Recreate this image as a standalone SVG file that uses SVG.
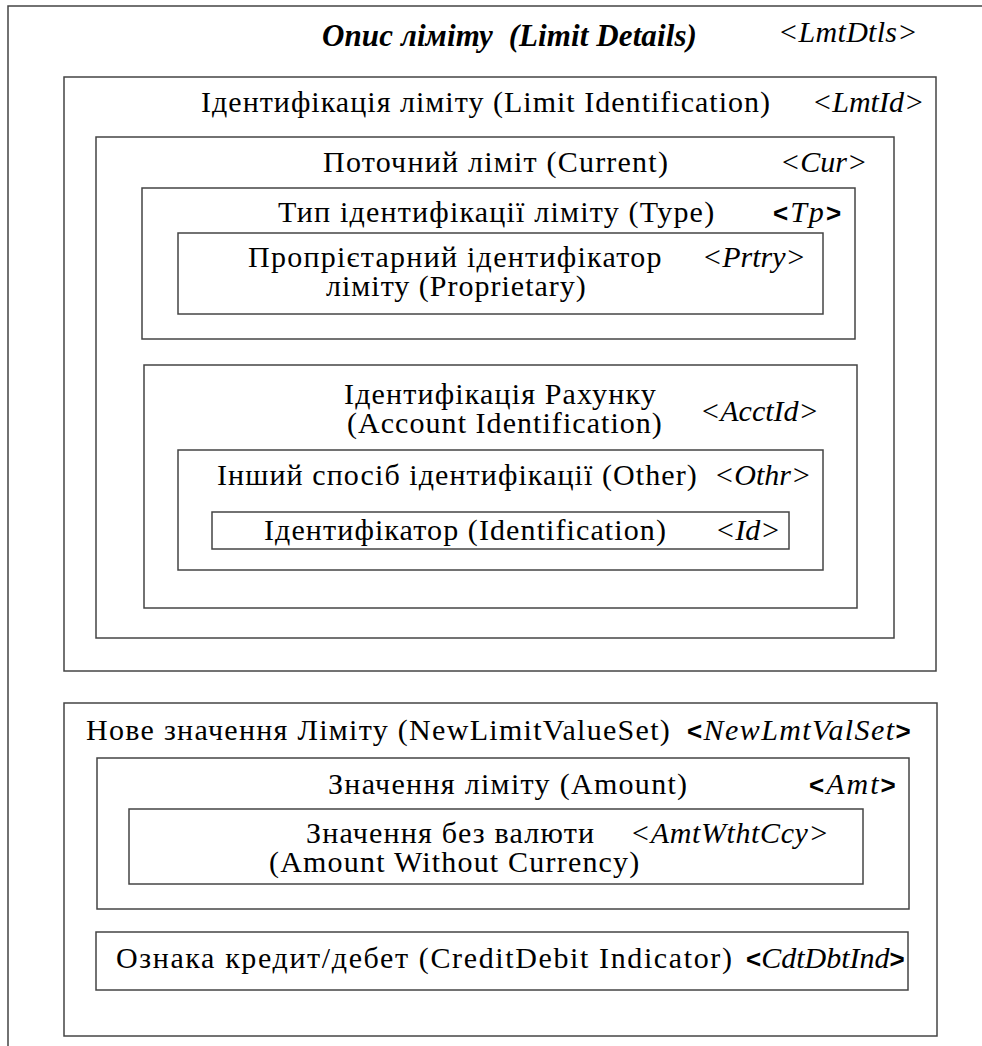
<svg xmlns="http://www.w3.org/2000/svg" width="982" height="1046" viewBox="0 0 982 1046">
<style>
.box{fill:none;stroke:#444;stroke-width:1.5}
.t{font-family:'Liberation Serif','Times New Roman',serif;font-size:30px;fill:#000}
.i{font-style:italic}
.b{font-family:'Liberation Sans',Arial,sans-serif;font-style:normal;font-weight:bold;font-size:26px}
.title{font-family:'Liberation Serif','Times New Roman',serif;font-size:31px;font-style:italic;font-weight:bold;fill:#000;white-space:pre}
</style>
<rect width="982" height="1046" fill="#fff"/>
<g id="LmtDtls">
<rect class="box" x="8" y="6" width="1010" height="1080"/>
<text class="title" x="322" y="46" letter-spacing="0.1">Опис ліміту  (Limit Details)</text>
<text class="t i" x="778" y="42" letter-spacing="0.3">&lt;LmtDtls&gt;</text>
</g>
<g id="LmtId">
<rect class="box" x="64" y="77" width="872" height="594"/>
<text class="t" x="201" y="112" letter-spacing="1.02">Ідентифікація ліміту (Limit Identification)</text>
<text class="t i" x="812" y="112">&lt;LmtId&gt;</text>
</g>
<g id="Cur">
<rect class="box" x="96" y="137" width="798" height="501"/>
<text class="t" x="323" y="172" letter-spacing="1.22">Поточний ліміт (Current)</text>
<text class="t i" x="780" y="172">&lt;Cur&gt;</text>
</g>
<g id="Tp">
<rect class="box" x="142" y="188" width="713" height="151"/>
<text class="t" x="278" y="222" letter-spacing="1.2">Тип ідентифікації ліміту (Type)</text>
<text class="t i" x="773" y="222" letter-spacing="2"><tspan class="b">&lt;</tspan>Tp<tspan class="b">&gt;</tspan></text>
</g>
<g id="Prtry">
<rect class="box" x="178" y="233" width="645" height="81"/>
<text class="t" x="248" y="267" letter-spacing="1.26">Пропрієтарний ідентифікатор</text>
<text class="t" x="326" y="296" letter-spacing="1">ліміту (Proprietary)</text>
<text class="t i" x="702" y="267">&lt;Prtry&gt;</text>
</g>
<g id="AcctId">
<rect class="box" x="144" y="365" width="713" height="243"/>
<text class="t" x="344" y="404" letter-spacing="1.15">Ідентифікація Рахунку</text>
<text class="t" x="347" y="433" letter-spacing="1.05">(Account Identification)</text>
<text class="t i" x="700" y="421">&lt;AcctId&gt;</text>
</g>
<g id="Othr">
<rect class="box" x="178" y="450" width="645" height="120"/>
<text class="t" x="217" y="485" letter-spacing="1.08">Інший спосіб ідентифікації (Other)</text>
<text class="t i" x="714" y="485">&lt;Othr&gt;</text>
</g>
<g id="Id">
<rect class="box" x="212" y="512" width="577" height="37"/>
<text class="t" x="264" y="540" letter-spacing="1.1">Ідентифікатор (Identification)</text>
<text class="t i" x="715" y="540">&lt;Id&gt;</text>
</g>
<g id="NewLmtValSet">
<rect class="box" x="64" y="703" width="873" height="333"/>
<text class="t" x="86" y="740" letter-spacing="1.3">Нове значення Ліміту (NewLimitValueSet)</text>
<text class="t i" x="687" y="740" letter-spacing="1.4"><tspan class="b">&lt;</tspan>NewLmtValSet<tspan class="b">&gt;</tspan></text>
</g>
<g id="Amt">
<rect class="box" x="97" y="758" width="812" height="151"/>
<text class="t" x="328" y="794" letter-spacing="1.3">Значення ліміту (Amount)</text>
<text class="t i" x="809" y="794" letter-spacing="2"><tspan class="b">&lt;</tspan>Amt<tspan class="b">&gt;</tspan></text>
</g>
<g id="AmtWthtCcy">
<rect class="box" x="129" y="809" width="734" height="75"/>
<text class="t" x="306" y="843" letter-spacing="1.2">Значення без валюти</text>
<text class="t" x="269" y="872" letter-spacing="1.2">(Amount Without Currency)</text>
<text class="t i" x="630" y="843" letter-spacing="0.6">&lt;AmtWthtCcy&gt;</text>
</g>
<g id="CdtDbtInd">
<rect class="box" x="96" y="932" width="812" height="58"/>
<text class="t" x="116" y="968" letter-spacing="1.62">Ознака кредит/дебет (CreditDebit Indicator)</text>
<text class="t i" x="746" y="968"><tspan class="b">&lt;</tspan>CdtDbtInd<tspan class="b">&gt;</tspan></text>
</g>
<g id="connectors"/>
</svg>
